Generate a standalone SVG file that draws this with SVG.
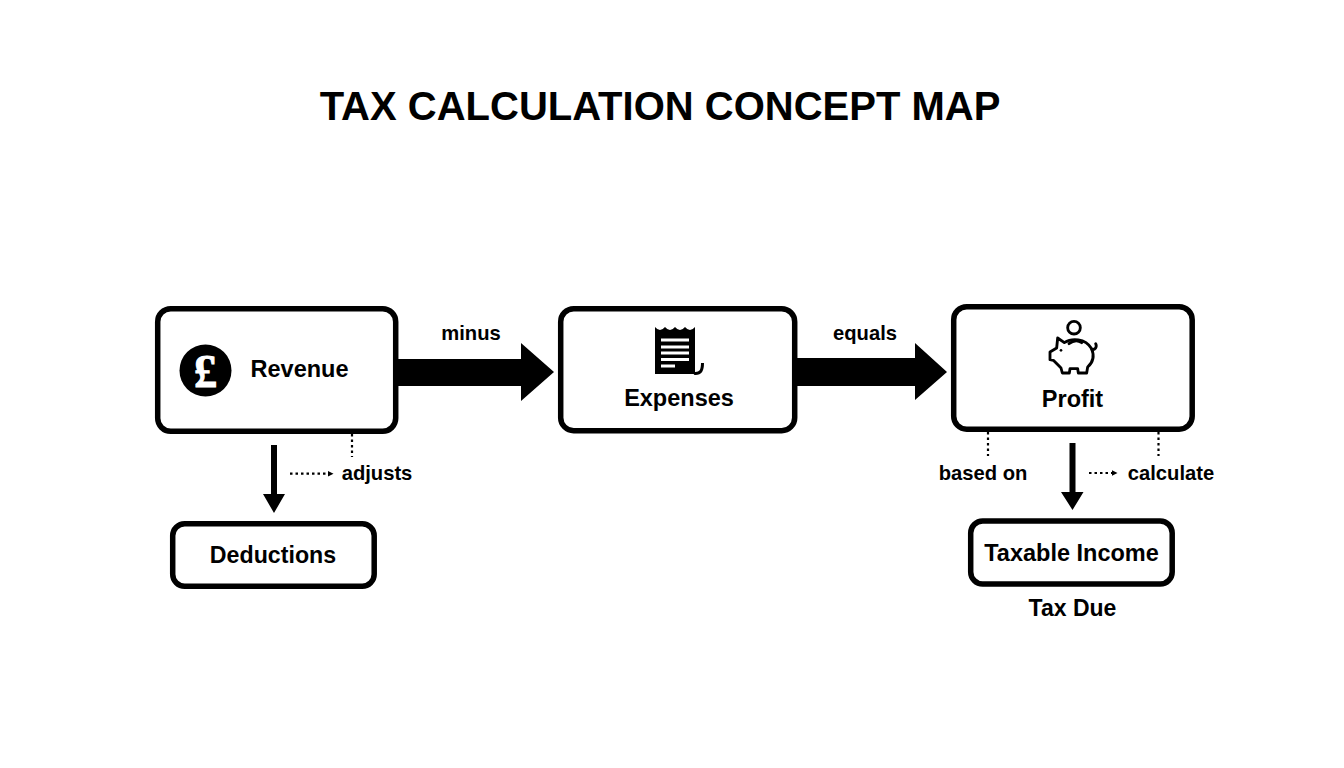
<svg xmlns="http://www.w3.org/2000/svg" width="1344" height="768" viewBox="0 0 1344 768">
<style>
text{font-family:"Liberation Sans",Arial,sans-serif;font-weight:700;fill:#000;text-anchor:middle}
.box{fill:#fff;stroke:#000;stroke-width:5.5}
.n{font-size:23.5px}
.l{font-size:20.2px}
.solid{fill:#000;stroke:none}
.dot{fill:none;stroke:#000;stroke-width:2.2;stroke-dasharray:2.5 3}
.tip{fill:#000}
.pig{fill:none;stroke:#000;stroke-width:8.5;stroke-linejoin:round;stroke-linecap:round}
</style>
<rect width="1344" height="768" fill="#fff"/>
<text id="title" x="660" y="120" font-size="40">TAX CALCULATION CONCEPT MAP</text>
<g id="connectors">
<path class="solid" d="M396 359H521V343L554 372L521 401V386H396Z"/>
<path class="solid" d="M795 358H915V343L947 372L915 400V386H795Z"/>
<path class="solid" d="M271 445H277V494H285L274 513L263 494H271Z"/>
<path class="solid" d="M1069.500 443H1075.500V492H1083.500L1072.500 510L1061 492H1069.500Z"/>
<path class="dot" d="M352 434V457"/>
<path class="dot" d="M988 432V456"/>
<path class="dot" d="M1158.500 432V456"/>
<path class="dot" d="M290 473.700H328"/>
<path class="tip" d="M328 471L333.500 473.700L328 476.400Z"/>
<path class="dot" d="M1089 473H1112"/>
<path class="tip" d="M1112 470.300L1117.500 473L1112 475.700Z"/>
<text class="l" x="471" y="340">minus</text>
<text class="l" x="865" y="340">equals</text>
<text class="l" x="377" y="480">adjusts</text>
<text class="l" x="983" y="480">based on</text>
<text class="l" x="1171" y="480">calculate</text>
</g>
<g id="revenue">
<rect class="box" x="157.700" y="308.700" width="238" height="122.600" rx="13"/>
<circle cx="205.500" cy="370.500" r="26" fill="#000"/>
<text x="205.500" y="387" font-size="46" stroke="#fff" stroke-width="1" style="font-family:'Liberation Serif',serif;fill:#fff">£</text>
<text class="n" x="299.500" y="377">Revenue</text>
</g>
<g id="expenses">
<rect class="box" x="560.700" y="308.700" width="234" height="122" rx="13"/>
<path fill="#000" d="M655 327Q660 333 665 327Q670 333 675 327Q680 333 685 327Q690 333 695 327V374H655Z"/>
<path fill="none" stroke="#fff" stroke-width="2.800" d="M661 340H689M661 347H689M661 353H689M661 359.500H689M661 366H675"/>
<path fill="none" stroke="#000" stroke-width="3" d="M694 373.300C701 374 702.500 370 702.500 363"/>
<text class="n" x="679" y="406">Expenses</text>
</g>
<g id="profit">
<rect class="box" x="953.700" y="306.700" width="238.500" height="122.500" rx="13"/>
<g transform="translate(1035 312) scale(.33333)">
<circle class="pig" cx="117" cy="47" r="19"/>
<path class="pig" d="M68 78L88 92C110 78 150 78 170 110C178 130 175 150 158 165L155 183H130L128 170H105L103 183H82L78 168C70 160 60 150 55 145L45 143V120L65 108Z"/>
<path class="pig" d="M170 112C180 115 187 105 182 95M102 95C115 85 130 85 140 92"/>
<circle cx="78" cy="115" r="4" fill="#000"/>
</g>
<text class="n" x="1072.500" y="406.500">Profit</text>
</g>
<g id="deductions">
<rect class="box" x="172.700" y="523.700" width="201.500" height="62.600" rx="12"/>
<text class="n" x="273" y="563" style="font-size:23.200px">Deductions</text>
</g>
<g id="taxable-income">
<rect class="box" x="970.700" y="521" width="201.500" height="63" rx="12"/>
<text class="n" x="1071.500" y="561">Taxable Income</text>
</g>
<g id="tax-due">
<text class="n" x="1072.500" y="616" style="font-size:23px">Tax Due</text>
</g>
</svg>
